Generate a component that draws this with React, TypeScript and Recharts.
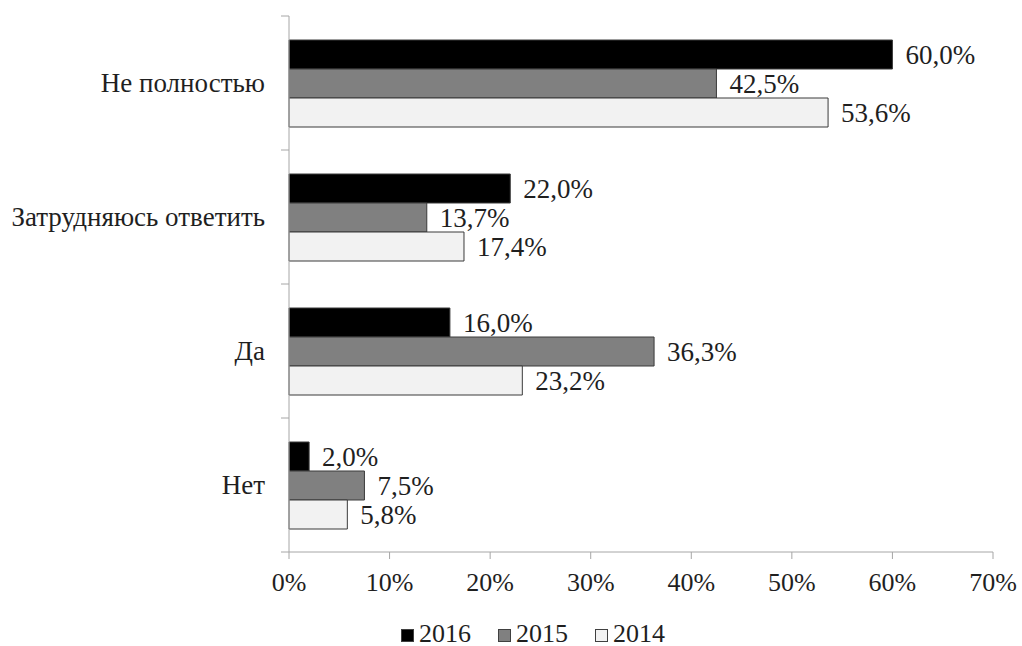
import { Bar, BarChart, LabelList, Legend, XAxis, YAxis } from "recharts";

const categories = ["Не полностью", "Затрудняюсь ответить", "Да", "Нет"];
const years = ["2016", "2015", "2014"];
const values2016 = [60.0, 22.0, 16.0, 2.0];
const values2015 = [42.5, 13.7, 36.3, 7.5];
const values2014 = [53.6, 17.4, 23.2, 5.8];
const xTicks = [0, 10, 20, 30, 40, 50, 60, 70];

const data = categories.map((name, i) => ({
  name,
  "2016": values2016[i],
  "2015": values2015[i],
  "2014": values2014[i]
}));

const FONT = '"Liberation Serif", "Times New Roman", serif';
const AXIS = "#a6a6a6";
const TEXT = "#1f1f1f";
const fills: Record<string, string> = { "2016": "#000000", "2015": "#808080", "2014": "#f2f2f2" };

const WIDTH = 1022;
const HEIGHT = 646;
const MARGIN = { top: 16, right: 29, left: 0, bottom: 0 };
const XAXIS_H = 50;
const LEGEND_H = 44;
const BAND = (HEIGHT - MARGIN.top - MARGIN.bottom - XAXIS_H - LEGEND_H) / categories.length;

const pct = (v: number) => `${v.toFixed(1).replace(".", ",")}%`;

// category label centred on the band, tick marks on the band edges
function CategoryTick(props: any) {
  const { x, y, payload, index } = props;
  const half = BAND / 2;
  return (
    <g>
      <line x1={x} x2={x + 8} y1={y - half} y2={y - half} stroke={AXIS} />
      {index === categories.length - 1 && (
        <line x1={x} x2={x + 8} y1={y + half} y2={y + half} stroke={AXIS} />
      )}
      <text x={x - 16} y={y} dy={9} textAnchor="end" fontSize={27} fontFamily={FONT} fill={TEXT}>
        {payload.value}
      </text>
    </g>
  );
}

function YearLegend() {
  return (
    <div
      style={{
        height: LEGEND_H,
        display: "flex",
        alignItems: "flex-start",
        paddingLeft: 401,
        paddingTop: 19,
        boxSizing: "border-box",
        fontFamily: FONT,
        fontSize: 26,
        lineHeight: "26px",
        color: TEXT
      }}
    >
      {years.map((y) => (
        <div key={y} style={{ display: "flex", alignItems: "flex-start", marginRight: 27 }}>
          <span
            style={{
              width: 11,
              height: 11,
              marginTop: 8,
              marginRight: 5,
              background: fills[y],
              border: "1px solid #404040",
              display: "inline-block"
            }}
          />
          <span>{y}</span>
        </div>
      ))}
    </div>
  );
}

export default function App() {
  return (
    <div style={{ position: "absolute", left: 0, top: 0, background: "#fff" }}>
      <BarChart
        width={WIDTH}
        height={HEIGHT}
        data={data}
        layout="vertical"
        margin={MARGIN}
        barSize={29}
        barGap={0}
      >
        <XAxis
          type="number"
          domain={[0, 70]}
          ticks={xTicks}
          height={XAXIS_H}
          tickFormatter={(v) => `${v}%`}
          stroke={AXIS}
          tickSize={7}
          tickMargin={14}
          tick={{ fontSize: 26, fontFamily: FONT, fill: TEXT }}
        />
        <YAxis
          type="category"
          dataKey="name"
          width={289}
          stroke={AXIS}
          tickLine={false}
          tickSize={6}
          tickMargin={2}
          tick={<CategoryTick />}
        />
        <Legend verticalAlign="bottom" content={<YearLegend />} />
        {years.map((y) => (
          <Bar key={y} dataKey={y} fill={fills[y]} stroke="#3a3a3a" strokeWidth={1} isAnimationActive={false}>
            <LabelList
              dataKey={y}
              position="right"
              offset={13}
              formatter={(v: any) => pct(Number(v))}
              style={{ fontSize: 27, fontFamily: FONT, fill: TEXT }}
            />
          </Bar>
        ))}
      </BarChart>
    </div>
  );
}
